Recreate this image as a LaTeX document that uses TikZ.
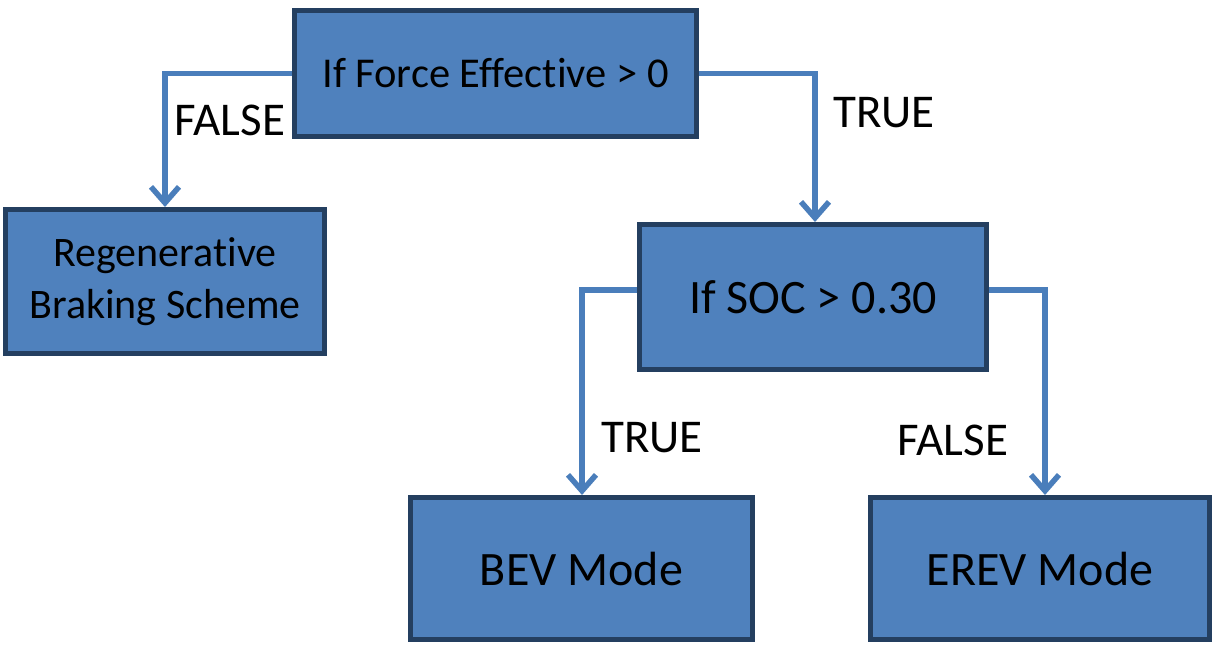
\documentclass[tikz,border=0pt]{standalone}
\usepackage{fontspec}
\setmainfont{Carlito}[Ligatures=NoCommon]
\usetikzlibrary{arrows.meta}
\definecolor{boxfill}{HTML}{4F81BD}
\definecolor{boxline}{HTML}{243F60}
\definecolor{arrowc}{HTML}{4A7EBB}
\tikzset{
  box/.style={draw=boxline, line width=5pt, fill=boxfill, align=center, inner sep=0pt},
  conn/.style={draw=arrowc, line width=5.5pt, -{Straight Barb[length=16pt,width=28pt,line width=5.5pt]}},
  lab/.style={font=\fontsize{47}{52}\selectfont, inner sep=0pt}
}
\begin{document}
\begin{tikzpicture}[x=1pt,y=-1pt]
\useasboundingbox (0,0) rectangle (1215,645);
\node[box, minimum width=402pt, minimum height=126pt, font=\fontsize{42.5}{48}\selectfont] (force) at (495.5,73.5) {If Force Effective > 0};
\node[box, minimum width=319pt, minimum height=144pt, font=\fontsize{42}{52}\selectfont] (regen) at (165,281.5) {Regenerative\\Braking Scheme};
\node[box, minimum width=347pt, minimum height=145pt, font=\fontsize{48}{52}\selectfont] (soc) at (813,297) {If SOC > 0.30};
\node[box, minimum width=342pt, minimum height=142pt, font=\fontsize{48}{52}\selectfont] (bev) at (581.5,568.5) {BEV Mode};
\node[box, minimum width=339pt, minimum height=142pt, font=\fontsize{48}{52}\selectfont] (erev) at (1040,568.5) {EREV Mode};
\draw[conn] (force.west) -| (regen.north);
\draw[conn] (force.east) -| (815,222) coordinate (t1);
\draw[conn] (soc.west |- 0,290) -| (bev.north -| 582,0);
\draw[conn] (soc.east |- 0,290) -| (erev.north -| 1045,0);
\node[lab] (lf) at (230,120) {FALSE};
\node[lab] (lt) at (884,113) {TRUE};
\node[lab] (lt2) at (652,438) {TRUE};
\node[lab] (lf2) at (953,440) {FALSE};
\end{tikzpicture}
\end{document}
